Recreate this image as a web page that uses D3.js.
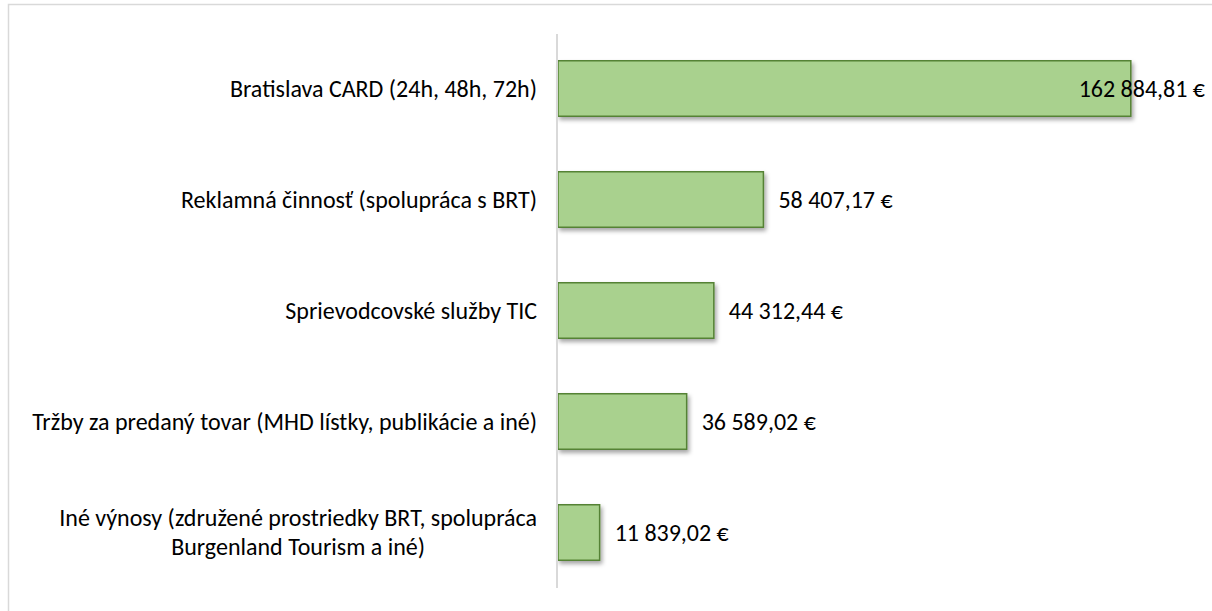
<!DOCTYPE html>
<html>
<head>
<meta charset="utf-8">
<script src="https://cdn.jsdelivr.net/npm/d3@7/dist/d3.min.js"></script>
<style>
  html, body { margin: 0; padding: 0; background: #fff; }
  svg { display: block; }
  text { font-family: Carlito, Lato, "Open Sans", sans-serif; fill: #000; }
</style>
</head>
<body>
<svg id="chart" width="1212" height="611"></svg>
<script>
const categories = [
  ["Bratislava CARD (24h, 48h, 72h)"],
  ["Reklamná činnosť (spolupráca s BRT)"],
  ["Sprievodcovské služby TIC"],
  ["Tržby za predaný tovar (MHD lístky, publikácie a iné)"],
  ["Iné výnosy (združené prostriedky BRT, spolupráca", "Burgenland Tourism a iné)"]
];
const values = [162884.81, 58407.17, 44312.44, 36589.02, 11839.02];
const valueLabels = ["162 884,81 €", "58 407,17 €", "44 312,44 €", "36 589,02 €", "11 839,02 €"];

const W = 1212, H = 611;
const svg = d3.select("#chart");

const defs = svg.append("defs");
const f = defs.append("filter").attr("id", "shadow")
  .attr("x", "-10%").attr("y", "-20%").attr("width", "130%").attr("height", "160%");
f.append("feDropShadow").attr("dx", 2).attr("dy", 3).attr("stdDeviation", 2.2)
  .attr("flood-color", "#000").attr("flood-opacity", 0.35);

// chart border
svg.append("rect").attr("x", 8.5).attr("y", 4.5).attr("width", W).attr("height", H)
  .attr("fill", "none").attr("stroke", "#d9d9d9").attr("stroke-width", 1.5);

const idx = d3.range(values.length);
const x = d3.scaleLinear().domain([0, 180000]).range([558, 1191]);
const y = d3.scaleBand().domain(idx).range([33, 588]).paddingInner(0.5).paddingOuter(0.25);

// bars
svg.append("g").selectAll("rect").data(idx).join("rect")
  .attr("x", x(0))
  .attr("y", i => y(i))
  .attr("width", i => x(values[i]) - x(0))
  .attr("height", y.bandwidth())
  .attr("fill", "#a9d18e")
  .attr("stroke", "#548235")
  .attr("stroke-width", 1.5)
  .attr("filter", "url(#shadow)");

// category axis line
svg.append("line").attr("x1", 557).attr("x2", 557).attr("y1", 34).attr("y2", 588)
  .attr("stroke", "#d9d9d9").attr("stroke-width", 2);

// category labels
const fs = 24;
const catG = svg.append("g").attr("font-size", fs);
idx.forEach(i => {
  const lines = categories[i];
  const cy = y(i) + y.bandwidth() / 2;
  const lh = 29;
  const t = catG.append("text").attr("font-size", fs);
  lines.forEach((ln, k) => {
    t.append("tspan").text(ln)
      .attr("y", cy + (k - (lines.length - 1) / 2) * lh)
      .attr("dy", "0.35em");
  });
  const tsp = t.selectAll("tspan").nodes();
  const widths = tsp.map(n => n.getComputedTextLength());
  const maxW = d3.max(widths);
  const right = 537;
  tsp.forEach(n => {
    d3.select(n).attr("x", right - maxW / 2).attr("text-anchor", "middle");
  });
});

// value labels
svg.append("g").selectAll("text").data(idx).join("text")
  .attr("font-size", fs)
  .attr("y", i => y(i) + y.bandwidth() / 2)
  .attr("dy", "0.35em")
  .text(i => valueLabels[i])
  .each(function(i) {
    const w = this.getComputedTextLength();
    let px = x(values[i]) + 15;
    if (px + w > 1205) px = 1205 - w;
    d3.select(this).attr("x", px);
  });
</script>
</body>
</html>
